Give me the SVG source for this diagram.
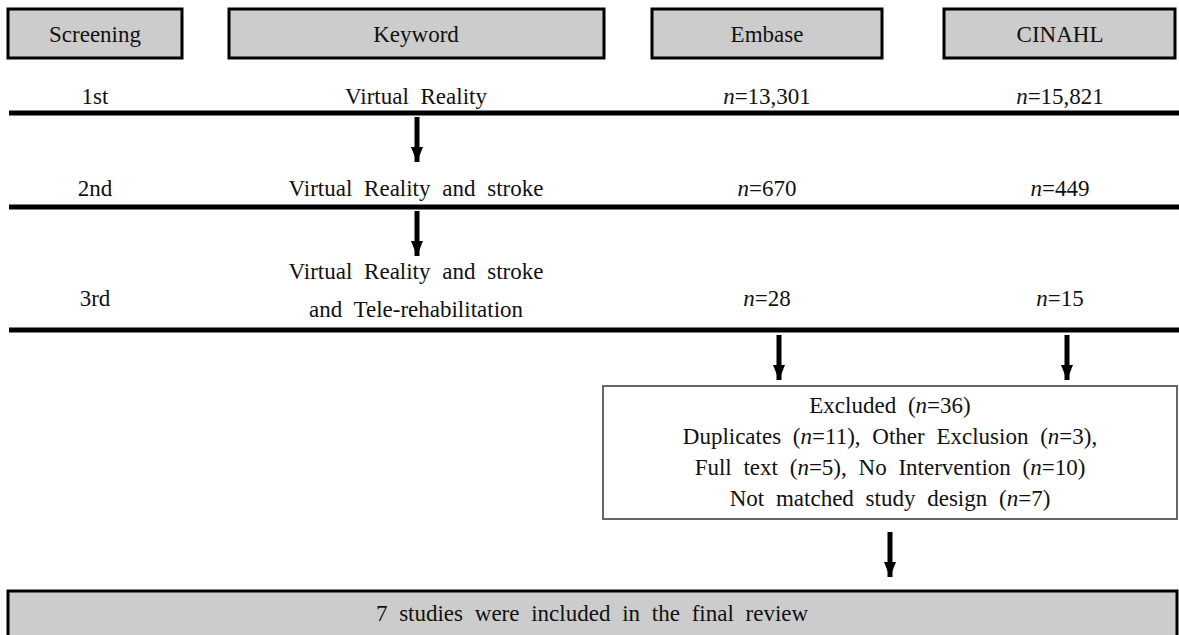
<svg xmlns="http://www.w3.org/2000/svg" width="1179" height="635" viewBox="0 0 1179 635">
<style>
text{font-family:'Liberation Serif','DejaVu Serif',serif;font-size:23px;fill:#111;text-anchor:middle;word-spacing:6px}
.hdr{fill:#cccccc;stroke:#000;stroke-width:3}
.rule{stroke:#000;stroke-width:5}
.arr{stroke:#000;stroke-width:5;fill:none;marker-end:url(#ah)}
.it{font-style:italic}
</style>
<defs>
<marker id="ah" viewBox="0 0 15 12" refX="15" refY="6" markerWidth="3" markerHeight="2.4" markerUnits="strokeWidth" orient="auto">
<path d="M0,0 L15,6 L0,12 z" fill="#000"/>
</marker>
</defs>
<g id="h-screening"><rect class="hdr" x="8" y="9" width="174" height="49"/><text x="95" y="42">Screening</text></g>
<g id="h-keyword"><rect class="hdr" x="229" y="9" width="375" height="49"/><text x="416" y="42">Keyword</text></g>
<g id="h-embase"><rect class="hdr" x="652" y="9" width="230" height="49"/><text x="767" y="42">Embase</text></g>
<g id="h-cinahl"><rect class="hdr" x="944" y="9" width="231" height="49"/><text x="1060" y="42">CINAHL</text></g>
<g id="row1">
<text x="95" y="104">1st</text>
<text x="416" y="104">Virtual Reality</text>
<text x="767" y="104"><tspan class="it">n</tspan>=13,301</text>
<text x="1060" y="104"><tspan class="it">n</tspan>=15,821</text>
</g>
<g id="row2">
<text x="95" y="196">2nd</text>
<text x="416" y="196">Virtual Reality and stroke</text>
<text x="767" y="196"><tspan class="it">n</tspan>=670</text>
<text x="1060" y="196"><tspan class="it">n</tspan>=449</text>
</g>
<g id="row3">
<text x="95" y="306">3rd</text>
<text x="416" y="279">Virtual Reality and stroke</text>
<text x="416" y="317">and Tele-rehabilitation</text>
<text x="767" y="306"><tspan class="it">n</tspan>=28</text>
<text x="1060" y="306"><tspan class="it">n</tspan>=15</text>
</g>
<g id="rules">
<line class="rule" x1="9" y1="113" x2="1179" y2="113"/>
<line class="rule" x1="9" y1="207" x2="1179" y2="207"/>
<line class="rule" x1="9" y1="330" x2="1179" y2="330"/>
</g>
<g id="excluded">
<rect x="603" y="386" width="574" height="133" fill="#fff" stroke="#666" stroke-width="2"/>
<text x="890" y="413">Excluded (<tspan class="it">n</tspan>=36)</text>
<text x="890" y="444">Duplicates (<tspan class="it">n</tspan>=11), Other Exclusion (<tspan class="it">n</tspan>=3),</text>
<text x="890" y="475">Full text (<tspan class="it">n</tspan>=5), No Intervention (<tspan class="it">n</tspan>=10)</text>
<text x="890" y="506">Not matched study design (<tspan class="it">n</tspan>=7)</text>
</g>
<g id="final">
<rect x="8" y="591" width="1169" height="50" fill="#cccccc" stroke="#000" stroke-width="3"/>
<text x="592" y="621">7 studies were included in the final review</text>
</g>
<g id="connectors">
<line class="arr" x1="417" y1="117" x2="417" y2="162"/>
<line class="arr" x1="417" y1="211" x2="417" y2="256"/>
<line class="arr" x1="779" y1="335" x2="779" y2="380"/>
<line class="arr" x1="1067" y1="335" x2="1067" y2="380"/>
<line class="arr" x1="890" y1="532" x2="890" y2="577"/>
</g>
</svg>
